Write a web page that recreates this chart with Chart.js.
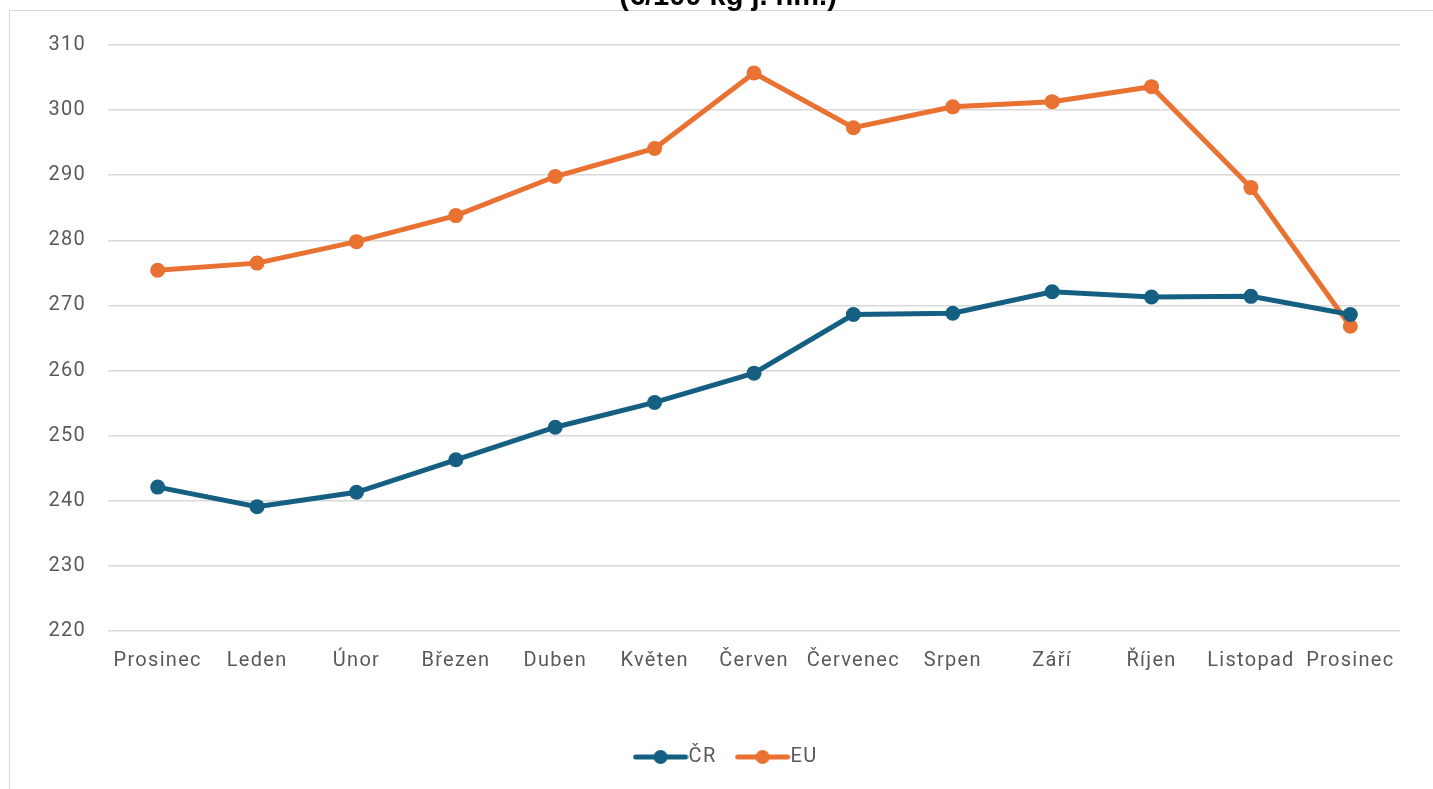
<!DOCTYPE html>
<html>
<head>
<meta charset="utf-8">
<script src="https://cdn.jsdelivr.net/npm/chart.js@4"></script>
<style>
  html, body { margin: 0; padding: 0; background: #fff; }
  #wrap { position: relative; width: 1433px; height: 789px; overflow: hidden; }
  #frame { position: absolute; left: 9px; top: 10px; width: 1500px; height: 900px; border: 1.5px solid #d9d9d9; }
  #chart { position: absolute; left: 0; top: 0; }
</style>
</head>
<body>
<div id="wrap">
  <div id="frame"></div>
  <canvas id="chart" width="1433" height="789"></canvas>
</div>
<script>
const months = ['Prosinec', 'Leden', 'Únor', 'Březen', 'Duben', 'Květen', 'Červen',
  'Červenec', 'Srpen', 'Září', 'Říjen', 'Listopad', 'Prosinec'];
const cr = [242.1, 239.1, 241.3, 246.3, 251.3, 255.1, 259.6, 268.6, 268.8, 272.1, 271.3, 271.4, 268.6];
const eu = [275.4, 276.5, 279.8, 283.8, 289.8, 294.1, 305.7, 297.3, 300.5, 301.3, 303.6, 288.1, 266.8];
const titleText = '(€/100 kg j. hm.)';

const textColor = '#595959';
const gridColor = '#d9d9d9';
const crColor = '#156082';
const euColor = '#e97132';

// legend marker: short line with a dot in the middle
function legendMarker(color) {
  const c = document.createElement('canvas');
  c.width = 56;
  c.height = 16;
  const g = c.getContext('2d');
  g.strokeStyle = color;
  g.lineWidth = 5;
  g.lineCap = 'round';
  g.beginPath();
  g.moveTo(3, 8);
  g.lineTo(53, 8);
  g.stroke();
  g.fillStyle = color;
  g.beginPath();
  g.arc(28, 8, 7, 0, Math.PI * 2);
  g.fill();
  return c;
}

const spacing = {
  id: 'spacing',
  beforeUpdate(chart) { chart.ctx.letterSpacing = '1.3px'; },
  // the legend in the original sits a bit right of centre
  afterLayout(chart) { chart.legend.left += 60; }
};

const topTitle = {
  id: 'topTitle',
  afterDraw(chart) {
    const ctx = chart.ctx;
    ctx.save();
    ctx.letterSpacing = '0px';
    ctx.font = 'bold 29px "Liberation Sans", Arial, sans-serif';
    ctx.fillStyle = '#000';
    ctx.textAlign = 'center';
    ctx.textBaseline = 'alphabetic';
    ctx.fillText(titleText, (chart.chartArea.left + chart.chartArea.right) / 2 - 26, 5);
    ctx.restore();
  }
};

new Chart(document.getElementById('chart'), {
  type: 'line',
  data: {
    labels: months,
    datasets: [
      {
        label: 'ČR',
        data: cr,
        borderColor: crColor,
        backgroundColor: crColor,
        borderWidth: 5,
        pointRadius: 7.5,
        pointBorderWidth: 0,
        pointStyle: 'circle',
        tension: 0
      },
      {
        label: 'EU',
        data: eu,
        borderColor: euColor,
        backgroundColor: euColor,
        borderWidth: 5,
        pointRadius: 7.5,
        pointBorderWidth: 0,
        pointStyle: 'circle',
        tension: 0
      }
    ]
  },
  options: {
    responsive: false,
    animation: false,
    layout: { padding: { top: 45, right: 33, bottom: 12, left: 0 } },
    font: { family: 'Roboto, sans-serif', size: 20 },
    plugins: {
      title: { display: false },
      tooltip: { enabled: false },
      legend: {
        position: 'bottom',
        labels: {
          color: textColor,
          font: { family: 'Roboto, sans-serif', size: 20 },
          usePointStyle: true,
          pointStyleWidth: 36,
          padding: 28,
          generateLabels(chart) {
            return chart.data.datasets.map((ds, i) => ({
              text: ds.label,
              fontColor: textColor,
              pointStyle: legendMarker(ds.borderColor),
              datasetIndex: i,
              hidden: false,
              lineWidth: 0
            }));
          }
        }
      }
    },
    scales: {
      x: {
        offset: true,
        grid: { display: false, drawTicks: false },
        border: { display: false },
        ticks: { color: textColor, font: { family: 'Roboto, sans-serif', size: 20 }, padding: 18, maxRotation: 0, autoSkip: false },
        afterFit(scale) { scale.height = 88; }
      },
      y: {
        min: 220,
        max: 310,
        grid: { color: gridColor, lineWidth: 1.5, drawTicks: false },
        border: { display: false },
        ticks: { stepSize: 10, color: textColor, font: { family: 'Roboto, sans-serif', size: 20 }, padding: 22 },
        afterFit(scale) { scale.width = 108; }
      }
    }
  },
  plugins: [spacing, topTitle]
});
</script>
</body>
</html>
